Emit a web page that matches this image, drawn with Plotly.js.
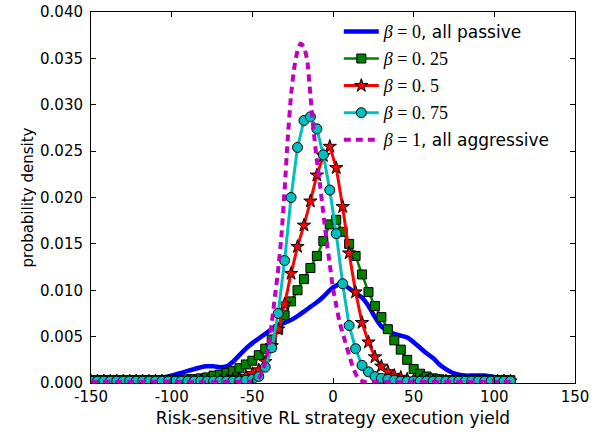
<!DOCTYPE html>
<html>
<head>
<meta charset="utf-8">
<script src="https://cdn.plot.ly/plotly-3.0.1.min.js"></script>
<style>html,body{margin:0;padding:0;background:#fff;}</style>
</head>
<body>
<div id="chart" style="width:597px;height:433px;"></div>
<script>
// shared evaluation grid for the marker series
const xGrid = [-150,-146,-142,-138,-134,-130,-126,-122,-118,-114,-110,-106,-102,-98,-94,-90,-86,-82,-78,-74,-70,-66,-62,-58,-54,-50,-46,-42,-38,-34,-30,-26,-22,-18,-14,-10,-6,-2,2,6,10,14,18,22,26,30,34,38,42,46,50,54,58,62,66,70,74,78,82,86,90,94,98,102,106,110];

// beta = 0, all passive
const yBeta0 = [0.0002,0.0002,0.0002,0.0002,0.0002,0.00025,0.0003,0.0003,0.0004,0.0004,0.0005,0.0006,0.0007,0.0009,0.0011,0.0013,0.0015,0.0017,0.0018,0.0018,0.0017,0.0018,0.0023,0.0030,0.0037,0.0043,0.0048,0.0053,0.0058,0.0062,0.0065,0.0068,0.0072,0.0077,0.0082,0.0087,0.0093,0.0100,0.0105,0.0107,0.0102,0.0097,0.0092,0.0083,0.0071,0.0061,0.0056,0.0053,0.0051,0.0049,0.0044,0.0038,0.0032,0.0027,0.0020,0.0015,0.0011,0.0009,0.0008,0.0008,0.0008,0.0008,0.0007,0.0006,0.0004,0.0002];

// beta = 0.25
const yBeta025 = [0.0003,0.0003,0.0003,0.0003,0.0003,0.0003,0.0003,0.0003,0.0003,0.0003,0.0003,0.0003,0.0003,0.0003,0.0003,0.0004,0.0004,0.0005,0.0006,0.0008,0.0009,0.0011,0.0013,0.0016,0.0020,0.0024,0.0030,0.0037,0.0047,0.0058,0.0073,0.0088,0.0100,0.0112,0.0124,0.0137,0.0153,0.0171,0.0176,0.0163,0.0150,0.0137,0.0117,0.0098,0.0083,0.0071,0.0058,0.0046,0.0036,0.0025,0.0015,0.0010,0.0007,0.0005,0.0004,0.0003,0.0003,0.0003,0.0003,0.0003,0.0003,0.0003,0.0003,0.0003,0.0003,0.0003];

// beta = 0.5
const yBeta05 = [0.0002,0.0002,0.0002,0.0002,0.0002,0.0002,0.0002,0.0002,0.0002,0.0002,0.0002,0.0002,0.0002,0.0002,0.0002,0.0002,0.0002,0.0002,0.0002,0.0002,0.0002,0.0003,0.0004,0.0005,0.0007,0.0010,0.0014,0.0023,0.0040,0.0058,0.0085,0.0118,0.0147,0.0170,0.0196,0.0224,0.0245,0.0255,0.0232,0.0190,0.0140,0.0098,0.0065,0.0044,0.0028,0.0018,0.0012,0.0008,0.0006,0.0004,0.0003,0.0002,0.0002,0.0002,0.0002,0.0002,0.0002,0.0002,0.0002,0.0002,0.0002,0.0002,0.0002,0.0002,0.0002,0.0002];

// beta = 0.75
const yBeta075 = [0.0002,0.0002,0.0002,0.0002,0.0002,0.0002,0.0002,0.0002,0.0002,0.0002,0.0002,0.0002,0.0002,0.0002,0.0002,0.0002,0.0002,0.0002,0.0002,0.0002,0.0002,0.0002,0.0002,0.0002,0.0003,0.0004,0.0007,0.0017,0.0038,0.0075,0.0132,0.0200,0.0254,0.0283,0.0287,0.0274,0.0246,0.0208,0.0161,0.0107,0.0062,0.0037,0.0019,0.0012,0.0007,0.0005,0.0004,0.0003,0.0002,0.0002,0.0002,0.0002,0.0002,0.0002,0.0002,0.0002,0.0002,0.0002,0.0002,0.0002,0.0002,0.0002,0.0002,0.0002,0.0002,0.0002];

// beta = 1, all aggressive (own, finer grid)
const xBeta1 = [-150,-110,-70,-50,-46,-44,-42,-40,-38,-36,-34,-32,-30,-28,-26,-24,-22,-20,-18,-16,-14,-12,-10,-8,-6,-4,-2,0,2,4,6,8,10,12,14,16,18,20,50,80,110];
const yBeta1 = [0.0001,0.0001,0.0001,0.0002,0.0005,0.0012,0.0022,0.0039,0.0064,0.0093,0.0122,0.0158,0.0208,0.0265,0.0310,0.0340,0.0358,0.0366,0.0362,0.0348,0.0310,0.0272,0.0240,0.0213,0.0183,0.0154,0.0128,0.0102,0.0084,0.0066,0.0054,0.0042,0.0030,0.0019,0.0010,0.0004,0.0002,0.0001,0.0001,0.0001,0.0001];

const mathOpen = '<span style="font-family:\'Liberation Serif\';font-size:18px">';
const legendNames = [
  mathOpen + '<i>β</i> = 0</span>, all passive',
  mathOpen + '<i>β</i> = 0. 25</span>',
  mathOpen + '<i>β</i> = 0. 5</span>',
  mathOpen + '<i>β</i> = 0. 75</span>',
  mathOpen + '<i>β</i> = 1</span>, all aggressive'
];

const xTickVals = [-150,-100,-50,0,50,100,150];
const xTickText = ['-150','-100','-50','0','50','100','150'];

const traces = [
  {x: xGrid, y: yBeta0, name: legendNames[0], mode: 'lines', legendgroup: 'g0',
   line: {color: '#0000ff', width: 4.5, shape: 'spline', smoothing: 0.8}},
  {x: xGrid, y: yBeta025, name: legendNames[1], mode: 'lines+markers', legendgroup: 'g1',
   line: {color: '#008000', width: 2.5},
   marker: {symbol: 'square', size: 9, color: '#008000', line: {color: '#000', width: 1}}},
  {x: xGrid, y: yBeta05, name: legendNames[2], mode: 'lines+markers', legendgroup: 'g2',
   line: {color: '#ff0000', width: 3},
   marker: {symbol: 'star', size: 10, color: '#ff0000', line: {color: '#000', width: 1}}},
  {x: xGrid, y: yBeta075, name: legendNames[3], mode: 'lines+markers', legendgroup: 'g3',
   line: {color: '#00bfbf', width: 3},
   marker: {symbol: 'circle', size: 10, color: '#00bfbf', line: {color: '#000', width: 1}}},
  {x: xBeta1, y: yBeta1, name: legendNames[4], mode: 'lines', legendgroup: 'g4',
   line: {color: '#bf00bf', width: 4, dash: '7px,5px', shape: 'spline', smoothing: 0.6}}
];

const axisCommon = {
  showline: true, linecolor: '#000', linewidth: 1, mirror: 'ticks',
  ticks: 'inside', ticklen: 5, tickcolor: '#000', tickwidth: 1,
  showgrid: false, zeroline: false,
  tickfont: {family: 'DejaVu Sans', size: 15, color: '#000'}
};

const layout = {
  width: 597, height: 433,
  margin: {l: 91, r: 22, t: 12, b: 50},
  paper_bgcolor: '#fff', plot_bgcolor: '#fff',
  font: {family: 'DejaVu Sans', color: '#000'},
  showlegend: true,
  legend: {x: 0.512, y: 0.995, xanchor: 'left', yanchor: 'top',
           traceorder: 'grouped', tracegroupgap: 2, itemwidth: 35,
           bgcolor: 'rgba(0,0,0,0)', borderwidth: 0,
           font: {family: 'DejaVu Sans', size: 17, color: '#000'}},
  xaxis: Object.assign({}, axisCommon, {
    range: [-150, 150], tickmode: 'array', tickvals: xTickVals, ticktext: xTickText,
    title: {text: 'Risk-sensitive RL strategy execution yield', font: {family: 'DejaVu Sans', size: 17, color: '#000'}, standoff: 7}
  }),
  yaxis: Object.assign({}, axisCommon, {
    range: [0, 0.04], dtick: 0.005, tickformat: '.3f', ticklabelstandoff: 4,
    title: {text: 'probability density', font: {family: 'DejaVu Sans', size: 15, color: '#000'}, standoff: 2}
  })
};

Plotly.newPlot('chart', traces, layout, {displayModeBar: false, staticPlot: true});
</script>
</body>
</html>
